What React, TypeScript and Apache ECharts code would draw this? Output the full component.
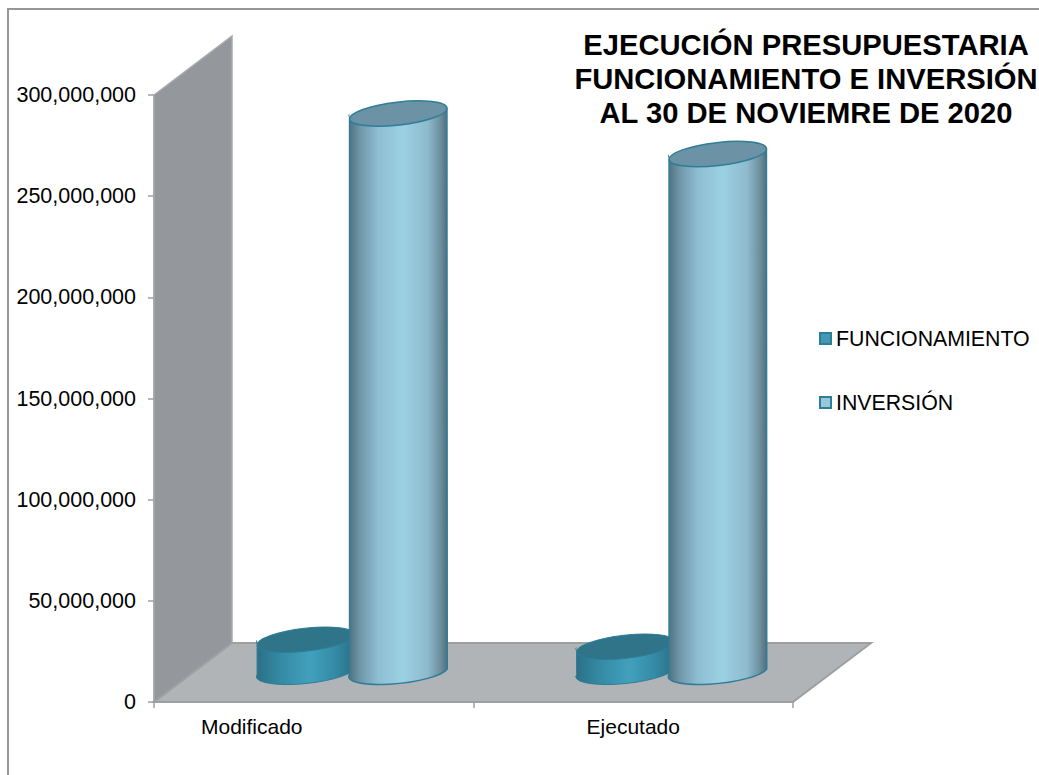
import React, { useEffect, useRef } from "react";
import * as echarts from "echarts";

const categories = ["Modificado", "Ejecutado"];
const funcionamiento = [14500000, 11000000];
const inversion = [274500000, 254500000];
const yTicks = { min: 0, max: 300000000, interval: 50000000 };
const titleText = "EJECUCIÓN PRESUPUESTARIA\nFUNCIONAMIENTO E INVERSIÓN\nAL 30 DE NOVIEMRE DE 2020";

const DEPTH_X = 78;
const DEPTH_Y = 59;
const BASE_LIFT = 33;
const RX = 49;
const RY = 11.5;
const TILT = (-6.5 * Math.PI) / 180;

function hGrad(stops: [number, string][]) {
  return new echarts.graphic.LinearGradient(0, 0, 1, 0, stops.map(([offset, color]) => ({ offset, color })));
}

const makeCylinder = (
  offsetX: number,
  bodyStops: [number, string][],
  topFill: string,
  strokeColor: string,
  strokeWidth: number,
) => (_params: any, api: any) => {
  const base = api.coord([api.value(0), 0]);
  const top = api.coord([api.value(0), api.value(1)]);
  const cx = base[0] + offsetX;
  const by = base[1] - BASE_LIFT;
  const ty = top[1] - BASE_LIFT;
  const dx = RX * Math.cos(TILT);
  const dy = RX * Math.sin(TILT);
  const rot = (TILT * 180) / Math.PI;
  const outline =
    `M ${cx - dx} ${ty - dy} L ${cx - dx} ${by - dy} ` +
    `A ${RX} ${RY} ${rot} 0 0 ${cx + dx} ${by + dy} ` +
    `L ${cx + dx} ${ty + dy}`;
  const filled = `${outline} A ${RX} ${RY} ${rot} 0 1 ${cx - dx} ${ty - dy} Z`;
  return {
    type: "group",
    children: [
      {
        type: "path",
        shape: { pathData: filled, layout: "none" },
        style: { fill: hGrad(bodyStops), stroke: null },
      },
      {
        type: "path",
        shape: { pathData: outline, layout: "none" },
        style: { fill: null, stroke: strokeColor, lineWidth: strokeWidth },
      },
      {
        type: "ellipse",
        x: cx,
        y: ty,
        rotation: -TILT,
        shape: { cx: 0, cy: 0, rx: RX, ry: RY },
        style: { fill: topFill, stroke: strokeColor, lineWidth: strokeWidth },
      },
    ],
  };
};

const renderBackdrop = (_params: any, api: any) => {
  const o = api.coord([0, 0]);
  const t = api.coord([0, yTicks.max]);
  const rightX = api.coord([1, 0])[0] + (api.size([1, 0])[0] as number) / 2;
  const x0 = o[0] - (api.size([1, 0])[0] as number) / 2;
  const y0 = o[1];
  const y1 = t[1];
  return {
    type: "group",
    children: [
      {
        type: "polygon",
        shape: { points: [[x0, y1], [x0 + DEPTH_X, y1 - DEPTH_Y], [x0 + DEPTH_X, y0 - DEPTH_Y], [x0, y0]] },
        style: { fill: "#94979b", stroke: "#a9abad", lineWidth: 1.5 },
      },
      {
        type: "polygon",
        shape: {
          points: [[x0, y0], [x0 + DEPTH_X, y0 - DEPTH_Y], [rightX + DEPTH_X, y0 - DEPTH_Y], [rightX, y0]],
        },
        style: { fill: "#b1b4b7", stroke: "#9d9fa1", lineWidth: 2 },
      },
    ],
  };
};

export default function App() {
  const ref = useRef<HTMLDivElement>(null);
  useEffect(() => {
    document.body.style.margin = "0";
    const chart = echarts.init(ref.current!, undefined, { renderer: "svg" });
    const catData = categories.map((c, i) =>
      i === 0 ? { value: c, textStyle: { padding: [0, 124, 0, 0] } } : { value: c },
    );
    chart.setOption({
      animation: false,
      backgroundColor: "#ffffff",
      textStyle: { fontFamily: "Liberation Sans" },
      title: {
        text: titleText,
        left: 801,
        top: 23,
        textAlign: "center",
        textStyle: {
          fontFamily: "Liberation Sans",
          fontWeight: "bold",
          fontSize: 29.2,
          lineHeight: 34,
          color: "#000000",
        },
      },
      graphic: [
        {
          type: "polyline",
          z: -10,
          shape: { points: [[8, 775], [8, 9], [1039, 9]] },
          style: { fill: "none", stroke: "#979797", lineWidth: 2 },
        },
      ],
      legend: {
        orient: "vertical",
        left: 819,
        top: 328,
        padding: 0,
        itemWidth: 11,
        itemHeight: 11,
        itemGap: 43,
        icon: "rect",
        data: [
          { name: "FUNCIONAMIENTO", itemStyle: { color: "#409ab5", borderColor: "#2f7d96", borderWidth: 2 } },
          { name: "INVERSIÓN", itemStyle: { color: "#97c8dc", borderColor: "#2f7d96", borderWidth: 2 } },
        ],
        textStyle: { fontFamily: "Liberation Sans", fontSize: 21.3, color: "#000000" },
      },
      grid: { left: 154, top: 95, width: 639, height: 607 },
      xAxis: {
        type: "category",
        data: catData,
        axisLine: { lineStyle: { color: "#9d9fa1", width: 2 } },
        axisTick: { show: true, length: 6, lineStyle: { color: "#9d9fa1", width: 1.5 } },
        axisLabel: { color: "#000000", fontSize: 21, margin: 14, fontFamily: "Liberation Sans" },
      },
      yAxis: {
        type: "value",
        min: yTicks.min,
        max: yTicks.max,
        interval: yTicks.interval,
        splitLine: { show: false },
        axisLine: { show: true, lineStyle: { color: "#a9abad", width: 2 } },
        axisTick: { show: true, length: 6, lineStyle: { color: "#9d9fa1", width: 1.5 } },
        axisLabel: {
          color: "#000000",
          fontSize: 21.5,
          margin: 18,
          padding: [2, 0, 0, 0],
          fontFamily: "Liberation Sans",
          formatter: (v: number) => v.toLocaleString("en-US"),
        },
      },
      series: [
        {
          type: "custom",
          name: "_backdrop",
          silent: true,
          z: 1,
          clip: false,
          renderItem: renderBackdrop,
          data: [[0, 0]],
          encode: { x: 0, y: 1 },
        },
        {
          type: "custom",
          name: "FUNCIONAMIENTO",
          z: 2,
          clip: false,
          renderItem: makeCylinder(
            -8,
            [
              [0, "#2a6f86"],
              [0.25, "#358aa5"],
              [0.55, "#41a1bd"],
              [0.8, "#358aa5"],
              [1, "#2a6f86"],
            ],
            "#2f7489",
            "#2f7d96",
            1,
          ),
          data: funcionamiento.map((v, i) => [i, v]),
          encode: { x: 0, y: 1 },
        },
        {
          type: "custom",
          name: "INVERSIÓN",
          z: 3,
          clip: false,
          renderItem: makeCylinder(
            84.5,
            [
              [0, "#4f6f7c"],
              [0.12, "#6f97a9"],
              [0.3, "#8fbdd1"],
              [0.55, "#9bd0e3"],
              [0.8, "#8ebbcd"],
              [0.93, "#6d8f9e"],
              [1, "#4f6f7c"],
            ],
            "#6b93a5",
            "#2f7d96",
            1.5,
          ),
          data: inversion.map((v, i) => [i, v]),
          encode: { x: 0, y: 1 },
        },
      ],
    });
    return () => chart.dispose();
  }, []);
  return <div ref={ref} style={{ position: "absolute", left: 0, top: 0, width: 1039, height: 775 }} />;
}
